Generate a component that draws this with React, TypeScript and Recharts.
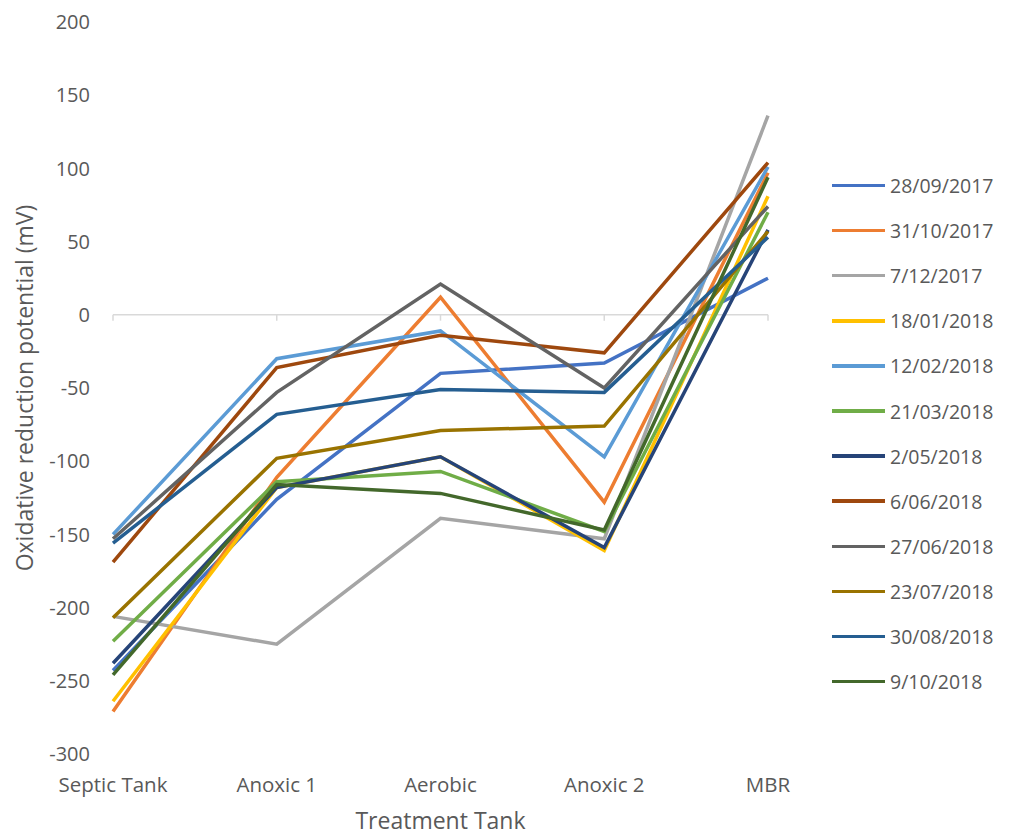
import React from "react";
import { LineChart, Line, XAxis, YAxis, ReferenceLine } from "recharts";

const tanks = ["Septic Tank", "Anoxic 1", "Aerobic", "Anoxic 2", "MBR"];

const sep2017 = [-243, -126, -40, -33, 25];
const oct2017 = [-271, -111, 12, -128, 97];
const dec2017 = [-206, -225, -139, -153, 136];
const jan2018 = [-264, -118, -97, -161, 81];
const feb2018 = [-150, -30, -11, -97, 101];
const mar2018 = [-223, -114, -107, -148, 70];
const may2018 = [-238, -118, -97, -159, 58];
const jun2018a = [-169, -36, -14, -26, 104];
const jun2018b = [-153, -53, 21, -50, 74];
const jul2018 = [-207, -98, -79, -76, 57];
const aug2018 = [-156, -68, -51, -53, 53];
const oct2018 = [-246, -116, -122, -147, 94];

const yTicks = [-300, -250, -200, -150, -100, -50, 0, 50, 100, 150, 200];

const series = [
  { name: "28/09/2017", values: sep2017, color: "#4472C4" },
  { name: "31/10/2017", values: oct2017, color: "#ED7D31" },
  { name: "7/12/2017", values: dec2017, color: "#A5A5A5" },
  { name: "18/01/2018", values: jan2018, color: "#FFC000" },
  { name: "12/02/2018", values: feb2018, color: "#5B9BD5" },
  { name: "21/03/2018", values: mar2018, color: "#70AD47" },
  { name: "2/05/2018", values: may2018, color: "#264478" },
  { name: "6/06/2018", values: jun2018a, color: "#9E480E" },
  { name: "27/06/2018", values: jun2018b, color: "#636363" },
  { name: "23/07/2018", values: jul2018, color: "#997300" },
  { name: "30/08/2018", values: aug2018, color: "#255E91" },
  { name: "9/10/2018", values: oct2018, color: "#43682B" },
];

const data = tanks.map((tank, i) => {
  const row: Record<string, string | number> = { tank };
  series.forEach((s) => {
    row[s.name] = s.values[i];
  });
  return row;
});

const FONT = "'Open Sans', 'Noto Sans', sans-serif";
const TEXT = "#595959";

// legend sits to the right of the plot, one row per sampling date
function SideLegend() {
  return (
    <div
      style={{
        position: "absolute",
        left: 832,
        top: 163,
        fontFamily: FONT,
      }}
    >
      {series.map((s) => (
        <div
          key={s.name}
          style={{ display: "flex", alignItems: "center", height: 45.1 }}
        >
          <span
            style={{
              display: "inline-block",
              width: 53,
              height: 3.5,
              background: s.color,
              marginRight: 5,
            }}
          />
          <span style={{ fontSize: 19.5, color: TEXT, whiteSpace: "nowrap" }}>
            {s.name}
          </span>
        </div>
      ))}
    </div>
  );
}

export default function App() {
  return (
    <div
      style={{
        position: "absolute",
        left: 0,
        top: 0,
        width: 1012,
        height: 836,
        background: "#fff",
      }}
    >
      <LineChart
        width={1012}
        height={836}
        data={data}
        margin={{ top: 22, right: 244, bottom: 0, left: 0 }}
      >
        <XAxis
          dataKey="tank"
          height={82}
          axisLine={false}
          tickLine={false}
          tickSize={6}
          tickMargin={17}
          tick={{ fill: TEXT, fontSize: 20.5, fontFamily: FONT }}
          label={{
            value: "Treatment Tank",
            position: "insideBottom",
            offset: 7,
            style: { fill: TEXT, fontSize: 23, fontFamily: FONT },
          }}
        />
        <YAxis
          width={113}
          domain={[-300, 200]}
          ticks={yTicks}
          interval={0}
          axisLine={false}
          tickLine={false}
          tickSize={6}
          tickMargin={17}
          tick={{ fill: TEXT, fontSize: 20, fontFamily: FONT }}
          label={{
            value: "Oxidative reduction potential (mV)",
            angle: -90,
            position: "insideLeft",
            offset: 25,
            style: {
              fill: TEXT,
              fontSize: 23,
              fontFamily: FONT,
              textAnchor: "middle",
            },
          }}
        />
        <ReferenceLine y={0} stroke="#D9D9D9" strokeWidth={1.5} />
        {tanks.map((t) => (
          <ReferenceLine
            key={t}
            segment={[
              { x: t, y: 0 },
              { x: t, y: -4 },
            ]}
            stroke="#D9D9D9"
            strokeWidth={1.5}
          />
        ))}
        {series.map((s) => (
          <Line
            key={s.name}
            type="linear"
            dataKey={s.name}
            stroke={s.color}
            strokeWidth={3.5}
            dot={false}
            activeDot={false}
            isAnimationActive={false}
          />
        ))}
      </LineChart>
      <SideLegend />
    </div>
  );
}
